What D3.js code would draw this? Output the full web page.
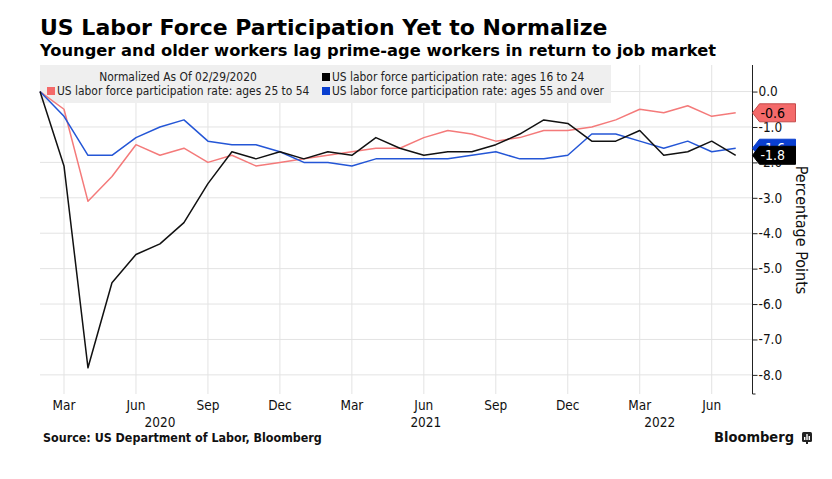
<!DOCTYPE html>
<html><head><meta charset="utf-8">
<script src="https://cdn.jsdelivr.net/npm/d3@7"></script>
<style>
body{margin:0;background:#fff;}
svg{display:block;font-family:"DejaVu Sans Condensed","DejaVu Sans",sans-serif;}
</style></head>
<body><svg id="c" width="832" height="479"></svg>
<script>
// ---- data ----
const months = ["2020-02","2020-03","2020-04","2020-05","2020-06","2020-07","2020-08","2020-09","2020-10","2020-11","2020-12",
  "2021-01","2021-02","2021-03","2021-04","2021-05","2021-06","2021-07","2021-08","2021-09","2021-10","2021-11","2021-12",
  "2022-01","2022-02","2022-03","2022-04","2022-05","2022-06","2022-07"];
const ages25to54 = [0,-0.5,-3.1,-2.4,-1.5,-1.8,-1.6,-2.0,-1.8,-2.1,-2.0,-1.9,-1.8,-1.7,-1.6,-1.6,-1.3,-1.1,-1.2,-1.4,-1.3,-1.1,-1.1,-1.0,-0.8,-0.5,-0.6,-0.4,-0.7,-0.6];
const ages16to24 = [0,-2.1,-7.8,-5.4,-4.6,-4.3,-3.7,-2.6,-1.7,-1.9,-1.7,-1.9,-1.7,-1.8,-1.3,-1.6,-1.8,-1.7,-1.7,-1.5,-1.2,-0.8,-0.9,-1.4,-1.4,-1.1,-1.8,-1.7,-1.4,-1.8];
const ages55plus = [0,-0.7,-1.8,-1.8,-1.3,-1.0,-0.8,-1.4,-1.5,-1.5,-1.7,-2.0,-2.0,-2.1,-1.9,-1.9,-1.9,-1.9,-1.8,-1.7,-1.9,-1.9,-1.8,-1.2,-1.2,-1.4,-1.6,-1.4,-1.7,-1.6];
const seriesNames = ["US labor force participation rate: ages 25 to 54","US labor force participation rate: ages 16 to 24","US labor force participation rate: ages 55 and over"];
const xTickMonths = ["2020-03","2020-06","2020-09","2020-12","2021-03","2021-06","2021-09","2021-12","2022-03","2022-06"];
const xTickLabels = ["Mar","Jun","Sep","Dec","Mar","Jun","Sep","Dec","Mar","Jun"];
const yearLabels = ["2020","2021","2022"];
const yearLabelMonths = ["2020-07","2021-06","2022-03"];
const yTicks = [0,-1,-2,-3,-4,-5,-6,-7,-8];

// ---- layout ----
const svg = d3.select("#c");
const L = 40, R = 752.5, T = 65, B = 394;
const mi = m => months.indexOf(m);
const x = d3.scaleLinear().domain([0, 29.7]).range([L, R]);
const y = d3.scaleLinear().domain([0.75, -8.54]).range([T, B]);
const colors = ["#f47a7a","#111111","#2456d6"];
const tagFill = ["#f46a6a","#000000","#0a3fd0"];
const tagStroke = ["#c44a4a","#000000","#0a3fd0"];
const tagText = ["#000","#fff","#fff"];
const data = [ages25to54, ages16to24, ages55plus];

// titles
svg.append("text").attr("x",40).attr("y",35).attr("font-size",22).attr("font-weight","bold").attr("fill","#000")
  .attr("font-family","DejaVu Sans, sans-serif")
  .text("US Labor Force Participation Yet to Normalize");
svg.append("text").attr("x",40).attr("y",56).attr("font-size",16.3).attr("font-weight","bold").attr("fill","#000")
  .attr("font-family","DejaVu Sans, sans-serif")
  .text("Younger and older workers lag prime-age workers in return to job market");

// grid
const g = svg.append("g");
g.selectAll("line.h").data(yTicks).join("line")
  .attr("x1",L).attr("x2",R).attr("y1",d=>y(d)).attr("y2",d=>y(d))
  .attr("stroke","#e3e3e3").attr("stroke-width",1);
g.selectAll("line.v").data(xTickMonths).join("line")
  .attr("x1",d=>x(mi(d))).attr("x2",d=>x(mi(d))).attr("y1",T).attr("y2",B)
  .attr("stroke","#e3e3e3").attr("stroke-width",1);

// legend box
svg.append("rect").attr("x",40).attr("y",65).attr("width",571).attr("height",38).attr("fill","#efefef");
svg.append("text").attr("x",178).attr("y",81).attr("text-anchor","middle").attr("font-size",11.9).attr("fill","#222")
  .text("Normalized As Of 02/29/2020");
const legPos = [[47,95],[322,81],[322,95]];
seriesNames.forEach((n,i)=>{
  svg.append("rect").attr("x",legPos[i][0]).attr("y",legPos[i][1]-8).attr("width",8).attr("height",8).attr("fill",tagFill[i]);
  svg.append("text").attr("x",legPos[i][0]+10).attr("y",legPos[i][1]).attr("font-size",11.9).attr("fill","#222").text(n);
});

// lines
const line = d3.line().x((d,i)=>x(i)).y(d=>y(d));
[0,2,1].forEach(i=>{
  svg.append("path").datum(data[i]).attr("d",line).attr("fill","none")
    .attr("stroke",colors[i]).attr("stroke-width",1.5).attr("stroke-linejoin","round");
});

// right axis
const axis = d3.axisRight(y).tickValues(yTicks).tickSize(5).tickPadding(1).tickFormat(d=>d3.format(".1f")(d).replace("−","-"));
const ag = svg.append("g").attr("transform",`translate(${R},0)`).call(axis);
ag.select(".domain").attr("d",`M0,${T}V${B}`).attr("stroke","#222");
ag.selectAll(".tick line").attr("stroke","#222");
ag.selectAll(".tick text").attr("font-size",13.5).attr("fill","#111").attr("font-family","DejaVu Sans Condensed, DejaVu Sans, sans-serif");
svg.append("line").attr("x1",R).attr("x2",R+3).attr("y1",B).attr("y2",B).attr("stroke","#222");

// last-value tags
[0,2,1].forEach(i=>{
  const v = data[i][data[i].length-1];
  const cy = y(v), h = 18, x0 = R, w = 43;
  const pts = [[x0,cy],[x0+7,cy-h/2],[x0+w,cy-h/2],[x0+w,cy+h/2],[x0+7,cy+h/2]];
  svg.append("path").attr("d","M"+pts.map(p=>p.join(",")).join("L")+"Z")
    .attr("fill",tagFill[i]).attr("stroke",tagStroke[i]).attr("stroke-width",1);
  svg.append("text").attr("x",x0+8).attr("y",cy+5).attr("font-size",14).attr("fill",tagText[i])
    .text(d3.format(".1f")(v).replace("−","-"));
});

// y axis title
svg.append("text").attr("transform","translate(796,230) rotate(90)").attr("text-anchor","middle")
  .attr("font-size",16).attr("fill","#111").text("Percentage Points");

// x labels
svg.selectAll("text.xt").data(xTickMonths).join("text")
  .attr("x",d=>x(mi(d))).attr("y",410).attr("text-anchor","middle").attr("font-size",13.5).attr("fill","#111")
  .text((d,i)=>xTickLabels[i]);
svg.selectAll("text.yr").data(yearLabels).join("text")
  .attr("x",(d,i)=>x(mi(yearLabelMonths[i]))+ (i===2?20:(i===1?2:0))).attr("y",426.5).attr("text-anchor","middle")
  .attr("font-size",13.5).attr("fill","#111").text(d=>d);

// footer
svg.append("text").attr("x",43).attr("y",442).attr("font-size",12.4).attr("font-weight","bold").attr("fill","#111")
  .text("Source: US Department of Labor, Bloomberg");
svg.append("text").attr("x",794).attr("y",442).attr("text-anchor","end").attr("font-size",14.5).attr("font-weight","bold").attr("fill","#111")
  .text("Bloomberg");
const lg = svg.append("g").attr("transform","translate(802,432)");
lg.append("rect").attr("width",10).attr("height",10).attr("rx",1.5).attr("fill","#222");
[[2,5,1.4],[4.3,2,1.4],[6.6,4,1.4]].forEach(b=>lg.append("rect").attr("x",b[0]).attr("y",b[1]).attr("width",b[2]).attr("height",8-b[1]).attr("fill","#fff"));
lg.append("rect").attr("x",4).attr("y",10).attr("width",2).attr("height",2).attr("fill","#222");
</script></body></html>
